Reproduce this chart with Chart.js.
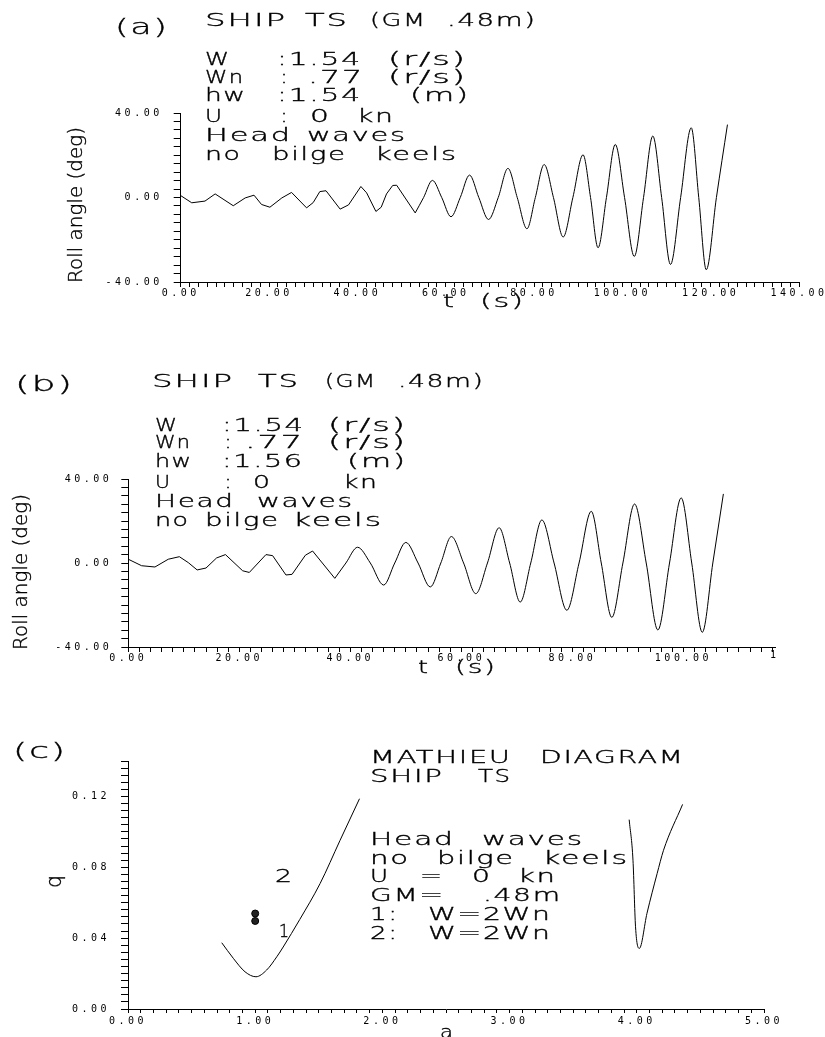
<!DOCTYPE html>
<html>
<head>
<meta charset="utf-8">
<script src="https://cdn.jsdelivr.net/npm/chart.js@4.4.1/dist/chart.umd.min.js"></script>
<style>
  body { margin: 0; background: #fff; overflow: hidden; }
  canvas { position: absolute; left: 0; }
</style>
</head>
<body>
<canvas id="chartA" width="825" height="330" style="top:0px"></canvas>
<canvas id="chartB" width="825" height="360" style="top:330px"></canvas>
<canvas id="chartC" width="825" height="347" style="top:690px"></canvas>
<script>
// ---- (a) roll record, hw 1.54 m : jagged start, then smooth part ----
const tA1    = [0, 2.5, 5.5, 7.8, 11.9, 14.6, 16.6, 18.3, 20.2, 22.9, 25.1, 28.5, 30.0, 31.5, 32.9, 36.1, 38.0, 40.8, 42.1, 44.2, 45.4, 46.6, 48.0, 48.9, 53.1];
const rollA1 = [0.9, -2.5, -1.7, 1.7, -3.9, -0.2, 1.1, -3.3, -4.6, -0.2, 2.4, -4.9, -2.4, 2.8, 3.2, -5.5, -3.5, 5.2, 2.2, -6.6, -4.6, 1.7, 5.7, 5.8, -7.3];
const tA2    = [53.1, 55.0, 57.0, 59.1, 61.2, 63.3, 65.4, 67.5, 69.7, 71.9, 74.1, 76.2, 78.4, 80.3, 82.3, 84.4, 86.6, 88.8, 91.1, 92.8, 94.5, 96.4, 98.4, 100.5, 102.7, 104.8, 106.9, 108.9, 110.9, 113.2, 115.6, 117.3, 119.0, 121.3, 123.8];
const rollA2 = [-7.3, 0, 8.1, 0, -9.1, 0, 10.6, 0, -10.4, 0, 13.8, 0, -14.8, 0, 15.6, 0, -18.7, 0, 20.2, 0, -23.8, 0, 25.1, 0, -27.9, 0, 29.1, 0, -31.7, 0, 33.0, 0, -34.2, 0, 34.5];

// ---- (b) roll record, hw 1.56 m ----
const tB1    = [0, 2.4, 4.8, 7.2, 9.2, 10.8, 12.4, 14.0, 15.9, 17.5, 20.6, 21.8, 24.8, 26.0, 28.4, 29.5, 31.9, 33.2, 37.2];
const rollB1 = [1.8, -1.3, -1.9, 1.8, 3.0, 0.2, -3.3, -2.4, 2.4, 4.0, -3.7, -4.5, 4.0, 3.5, -5.7, -5.4, 3.7, 5.7, -7.3];
const tB2    = [37.2, 39.2, 41.3, 43.6, 46.0, 48.0, 50.0, 52.2, 54.4, 56.3, 58.2, 60.4, 62.6, 64.7, 66.8, 68.7, 70.6, 72.5, 74.5, 76.7, 79.0, 81.2, 83.4, 85.2, 87.1, 89.1, 91.2, 93.3, 95.4, 97.5, 99.6, 101.5, 103.4, 105.3, 107.2];
const rollB2 = [-7.3, 0, 7.5, 0, -10.5, 0, 9.8, 0, -11.4, 0, 12.6, 0, -14.6, 0, 16.8, 0, -18.6, 0, 20.5, 0, -22.5, 0, 24.6, 0, -25.9, 0, 28.1, 0, -31.9, 0, 31.0, 0, -33.0, 0, 32.9];

// ---- (c) Mathieu diagram boundaries and the two test points ----
const aLeft  = [0.737, 0.828, 0.92, 1.006, 1.09, 1.17, 1.22, 1.35, 1.51, 1.667, 1.82];
const qLeft  = [0.0374, 0.0286, 0.021, 0.0182, 0.022, 0.0295, 0.035, 0.0505, 0.0708, 0.0952, 0.1187];
const aRight = [3.94, 3.97, 3.99, 4.02, 4.08, 4.16, 4.21, 4.36];
const qRight = [0.1069, 0.084, 0.0464, 0.0342, 0.054, 0.0765, 0.0896, 0.1155];
const aPts   = [1.0, 1.0];
const qPts   = [0.0539, 0.0497];

const MAIN = '"DejaVu Sans"';
const ROT = -Math.PI / 2;

function pts(xs, ys) {
    return xs.map((x, i) => ({ x: x, y: ys[i] }));
}

function drawText(ctx, it) {
    ctx.save();
    ctx.font = (it.weight || 200) + ' ' + (it.size || 17) + 'px ' + (it.family || MAIN);
    const ls = it.ls !== undefined ? it.ls : 1;
    ctx.letterSpacing = ls + 'px';
    ctx.fillStyle = '#000';
    ctx.strokeStyle = '#000';
    ctx.textAlign = 'left';
    ctx.textBaseline = it.base || 'middle';
    const raw = ctx.measureText(it.t).width - ls;
    const sx = it.w ? it.w / raw : 1.4;
    ctx.translate(it.x, it.y);
    if (it.rot) ctx.rotate(it.rot);
    ctx.scale(sx, 1);
    ctx.fillText(it.t, 0, 0);
    if (!it.noStroke) {
        // thin stroke darkens the extra-light face to a 1px pen line
        ctx.lineWidth = 0.35;
        ctx.strokeText(it.t, 0, 0);
    }
    ctx.restore();
}

// annotation text + letter spacing for the tick labels
const notesPlugin = {
    id: 'notes',
    beforeDraw(chart) {
        chart.ctx.letterSpacing = '3.5px';
    },
    afterDraw(chart, args, opts) {
        (opts.items || []).forEach(it => drawText(chart.ctx, it));
    }
};

function axis(o) {
    return {
        type: 'linear',
        min: o.min,
        max: o.max,
        afterFit: s => {
            if (o.w) s.width = o.w; else s.height = o.h;
            s.paddingLeft = 0; s.paddingRight = 0; s.paddingTop = 0; s.paddingBottom = 0;
        },
        grid: { drawOnChartArea: false, color: '#000', tickLength: o.tick, lineWidth: 1 },
        border: { color: '#000', width: 1 },
        ticks: {
            stepSize: o.step,
            includeBounds: false,
            autoSkip: false,
            maxRotation: 0,
            minRotation: 0,
            padding: o.pad,
            color: '#000',
            font: { family: 'DejaVu Sans Mono', size: 10 },
            callback: o.label
        }
    };
}

function lineSet(data, smooth) {
    return {
        data: data,
        borderColor: '#000',
        borderWidth: 1,
        pointRadius: 0,
        tension: 0,
        cubicInterpolationMode: smooth ? 'monotone' : 'default'
    };
}

function baseOptions(padding, scales, items) {
    return {
        responsive: false,
        animation: false,
        devicePixelRatio: 1,
        layout: { padding: padding },
        scales: scales,
        plugins: { legend: { display: false }, tooltip: { enabled: false }, notes: { items: items } }
    };
}

const rollLabel = v => (v % 40 === 0 ? v.toFixed(2) : '');
const timeLabel = v => (v % 20 === 0 ? v.toFixed(2) : '');
const titleFont = { weight: 200, size: 19, ls: 0 };

// ---------------- (a) ----------------
const itemsA = [
    { t: '(a)', x: 115, y: 28, w: 52, size: 22 },
    { t: 'SHIP', x: 205, y: 22, w: 80 }, { t: 'TS', x: 305, y: 22, w: 42 },
    { t: '(GM', x: 370, y: 22, w: 55 }, { t: '.48m)', x: 447, y: 22, w: 88 },
    { t: 'W', x: 205, y: 61, w: 24 }, { t: ':1.54', x: 277, y: 61, w: 83 }, { t: '(r/s)', x: 388, y: 61, w: 77 },
    { t: 'Wn', x: 205, y: 79, w: 38 }, { t: ':', x: 280, y: 79 }, { t: '.77', x: 308, y: 79, w: 54 }, { t: '(r/s)', x: 388, y: 79, w: 77 },
    { t: 'hw', x: 205, y: 97, w: 40 }, { t: ':1.54', x: 277, y: 97, w: 83 }, { t: '(m)', x: 410, y: 97, w: 58 },
    { t: 'U', x: 205, y: 118, w: 17 }, { t: ':', x: 280, y: 118 }, { t: '0', x: 310, y: 118, w: 19 }, { t: 'kn', x: 357, y: 118, w: 36 },
    { t: 'Head', x: 205, y: 137, w: 85 }, { t: 'waves', x: 307, y: 137, w: 98 },
    { t: 'no', x: 205, y: 156, w: 35 }, { t: 'bilge', x: 272, y: 156, w: 73 }, { t: 'keels', x: 375, y: 156, w: 81 },
    Object.assign({ t: 'Roll angle (deg)', x: 77, y: 283, w: 156, rot: ROT }, titleFont),
    { t: 't', x: 443, y: 303, w: 11 }, { t: '(s)', x: 480, y: 303, w: 43 }
];

new Chart(document.getElementById('chartA'), {
    type: 'line',
    data: { datasets: [lineSet(pts(tA1, rollA1), false), lineSet(pts(tA2, rollA2), true)] },
    options: baseOptions({ left: 90.7, right: 26, top: 113, bottom: 18 }, {
        x: axis({ min: 0, max: 140, step: 2, tick: 5, pad: 0, h: 30, label: timeLabel }),
        y: axis({ min: -40, max: 40, step: 4, tick: 7, pad: 11, w: 90, label: rollLabel })
    }, itemsA),
    plugins: [notesPlugin]
});

// ---------------- (b) ----------------
const itemsB = [
    { t: '(b)', x: 15, y: 55, w: 57, size: 22 },
    { t: 'SHIP', x: 152, y: 53, w: 80 }, { t: 'TS', x: 258, y: 53, w: 40 },
    { t: '(GM', x: 325, y: 53, w: 50 }, { t: '.48m)', x: 398, y: 53, w: 85 },
    { t: 'W', x: 155, y: 97, w: 22 }, { t: ':1.54', x: 222, y: 97, w: 81 }, { t: '(r/s)', x: 328, y: 97, w: 77 },
    { t: 'Wn', x: 155, y: 114, w: 35 }, { t: ':', x: 224, y: 114 }, { t: '.77', x: 245, y: 114, w: 57 }, { t: '(r/s)', x: 328, y: 114, w: 77 },
    { t: 'hw', x: 155, y: 133, w: 36 }, { t: ':1.56', x: 222, y: 133, w: 80 }, { t: '(m)', x: 347, y: 133, w: 58 },
    { t: 'U', x: 155, y: 154, w: 15 }, { t: ':', x: 224, y: 154 }, { t: '0', x: 253, y: 154, w: 17 }, { t: 'kn', x: 343, y: 154, w: 34 },
    { t: 'Head', x: 155, y: 173, w: 78 }, { t: 'waves', x: 257, y: 173, w: 95 },
    { t: 'no', x: 155, y: 192, w: 33 }, { t: 'bilge', x: 205, y: 192, w: 73 }, { t: 'keels', x: 293, y: 192, w: 88 },
    Object.assign({ t: 'Roll angle (deg)', x: 22, y: 320, w: 156, rot: ROT }, titleFont),
    { t: 't', x: 418, y: 339, w: 10 }, { t: '(s)', x: 455, y: 339, w: 40 },
    { t: '1', x: 770, y: 325, family: '"DejaVu Sans Mono"', weight: 400, size: 10, ls: 0, w: 6, noStroke: true }
];

new Chart(document.getElementById('chartB'), {
    type: 'line',
    data: { datasets: [lineSet(pts(tB1, rollB1), false), lineSet(pts(tB2, rollB2), true)] },
    options: baseOptions({ left: 38.3, right: 50, top: 149, bottom: 13 }, {
        x: axis({ min: 0, max: 116.5, step: 2, tick: 5, pad: 0, h: 30, label: timeLabel }),
        y: axis({ min: -40, max: 40, step: 4, tick: 7, pad: 9, w: 90, label: rollLabel })
    }, itemsB),
    plugins: [notesPlugin]
});

// ---------------- (c) ----------------
const itemsC = [
    { t: '(c)', x: 13, y: 62, w: 52, size: 22 },
    { t: 'MATHIEU', x: 370, y: 69, w: 140 }, { t: 'DIAGRAM', x: 540, y: 69, w: 143 },
    { t: 'SHIP', x: 370, y: 88, w: 72 }, { t: 'TS', x: 478, y: 88, w: 32 },
    { t: 'Head', x: 370, y: 151, w: 83 }, { t: 'waves', x: 482, y: 151, w: 100 },
    { t: 'no', x: 370, y: 170, w: 38 }, { t: 'bilge', x: 437, y: 170, w: 76 }, { t: 'keels', x: 543, y: 170, w: 84 },
    { t: 'U', x: 370, y: 188, w: 18 }, { t: '=', x: 420, y: 188, w: 22 }, { t: '0', x: 472, y: 188, w: 18 }, { t: 'kn', x: 518, y: 188, w: 37 },
    { t: 'GM=', x: 370, y: 207, w: 73 }, { t: '.48m', x: 483, y: 207, w: 77 },
    { t: '1:', x: 370, y: 226, w: 27 }, { t: 'W=2Wn', x: 428, y: 226, w: 122 },
    { t: '2:', x: 370, y: 245, w: 27 }, { t: 'W=2Wn', x: 428, y: 245, w: 122 },
    { t: '2', x: 275, y: 188, w: 17 }, { t: '1', x: 279, y: 243, w: 10 },
    { t: 'q', x: 55, y: 198, rot: ROT, size: 22, ls: 0, w: 13 },
    { t: 'a', x: 440, y: 348, w: 13, base: 'alphabetic' }
];

new Chart(document.getElementById('chartC'), {
    type: 'line',
    data: {
        datasets: [
            lineSet(pts(aLeft, qLeft), true),
            lineSet(pts(aRight, qRight), true),
            {
                data: pts(aPts, qPts),
                showLine: false,
                pointRadius: 3.5,
                pointStyle: 'circle',
                backgroundColor: '#222',
                borderColor: '#000',
                borderWidth: 1
            }
        ]
    },
    options: baseOptions({ left: 38, right: 61, top: 71, bottom: 8 }, {
        x: axis({ min: 0, max: 5, step: 0.1, tick: 4, pad: 2, h: 20,
            label: v => (Math.abs(v - Math.round(v)) < 1e-6 ? v.toFixed(2) : '') }),
        y: axis({ min: 0, max: 0.14, step: 0.004, tick: 7, pad: 11, w: 90,
            label: v => (Math.round(v * 1000) % 40 === 0 ? v.toFixed(2) : '') })
    }, itemsC),
    plugins: [notesPlugin]
});
</script>
</body>
</html>
